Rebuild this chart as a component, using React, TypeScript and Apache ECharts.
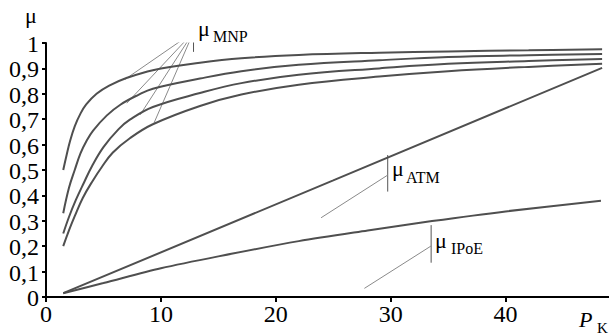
import { useEffect, useRef } from "react";
import * as echarts from "echarts";

// ---- data ----
const xTicks = [0, 10, 20, 30, 40];
const xTickLabels = ["0", "10", "20", "30", "40"];
const yTicks = [0, 0.1, 0.2, 0.3, 0.4, 0.5, 0.6, 0.7, 0.8, 0.9, 1];
const yTickLabels = ["0", "0,1", "0,2", "0,3", "0,4", "0,5", "0,6", "0,7", "0,8", "0,9", "1"];

const mnp1 = [
  [1.5, 0.5], [1.8, 0.56], [2.1, 0.615], [2.5, 0.672], [3, 0.722], [3.5, 0.758], [4.4, 0.8],
  [5.5, 0.832], [7, 0.862], [9.3, 0.893], [13.4, 0.922], [17, 0.94], [22, 0.953],
  [29, 0.962], [35, 0.967], [42, 0.971], [48.4, 0.975],
];
const mnp2 = [
  [1.5, 0.33], [2, 0.43], [2.5, 0.5], [3, 0.565], [3.5, 0.612], [4.1, 0.655], [5.3, 0.715],
  [6.5, 0.758], [8, 0.795], [9.3, 0.82], [13.4, 0.86], [17, 0.889], [22, 0.914], [29, 0.932],
  [35, 0.945], [42, 0.952], [48.4, 0.957],
];
const mnp3 = [
  [1.5, 0.25], [2, 0.315], [2.6, 0.382], [3.3, 0.45], [4, 0.515], [5, 0.59], [6.3, 0.66],
  [7.3, 0.698], [9.3, 0.748], [13.4, 0.803], [17, 0.842], [22, 0.875],
  [29, 0.9], [35, 0.918], [42, 0.929], [48.4, 0.937],
];
const mnp4 = [
  [1.5, 0.2], [2, 0.262], [2.5, 0.318], [3.2, 0.39], [4.1, 0.46], [4.8, 0.508], [5.8, 0.568],
  [7.3, 0.625], [9.3, 0.68], [13.4, 0.752], [17, 0.797], [22, 0.836], [29, 0.868],
  [35, 0.889], [42, 0.906], [48.4, 0.918],
];
const atm = [[1.5, 0.015], [25, 0.459], [48.4, 0.902]];
const ipoe = [
  [1.5, 0.015], [5, 0.055], [10, 0.113], [15, 0.16], [22, 0.22], [28, 0.262],
  [33.6, 0.299], [40, 0.337], [48.3, 0.379],
];

// annotation anchors (data coordinates)
const mnpBar = [[12.84, 1.094], [12.84, 0.965]];
const mnpApex = [12.84, 1.043];
const mnpTargets = [[6.88, 0.857], [7.03, 0.763], [8.19, 0.717], [9.41, 0.686]];
const atmBar = [[29.74, 0.559], [29.74, 0.415]];
const atmApex = [29.74, 0.48];
const atmTarget = [23.94, 0.312];
const ipoeBar = [[33.52, 0.283], [33.52, 0.135]];
const ipoeApex = [33.52, 0.201];
const ipoeTarget = [27.71, 0.034];

const SERIF = "Liberation Serif";
const CURVE = "#4f4f4f";
const THIN = "#8a8a8a";

function curve(data: number[][], smooth: number | boolean = 0.4) {
  return {
    type: "line",
    data,
    smooth,
    showSymbol: false,
    symbol: "none",
    silent: true,
    lineStyle: { color: CURVE, width: 2 },
    z: 3,
  };
}
function thin(data: number[][], color = THIN, width = 1) {
  return {
    type: "line",
    data,
    showSymbol: false,
    symbol: "none",
    silent: true,
    lineStyle: { color, width },
    z: 2,
  };
}

export default function App() {
  const ref = useRef<HTMLDivElement>(null);
  useEffect(() => {
    if (!ref.current) return;
    const chart = echarts.init(ref.current, undefined, { renderer: "svg" });
    const series: any[] = [
      curve(mnp1), curve(mnp2), curve(mnp3), curve(mnp4),
      curve(atm, false),
      curve(ipoe, 0.3),
      thin(mnpBar, "#555"),
      ...mnpTargets.map((t) => thin([mnpApex, t])),
      thin(atmBar, "#555"),
      thin([atmApex, atmTarget]),
      thin(ipoeBar, "#555"),
      thin([ipoeApex, ipoeTarget]),
    ];
    const txt = (
      text: string,
      x: number,
      y: number,
      size: number,
      italic = false,
      align = "left"
    ) => ({
      type: "text",
      x,
      y,
      silent: true,
      style: {
        text,
        fontFamily: SERIF,
        fontSize: size,
        fontStyle: italic ? "italic" : "normal",
        fill: "#000",
        align,
        verticalAlign: "middle",
      },
    });
    chart.setOption({
      animation: false,
      backgroundColor: "#fff",
      grid: { left: 46, right: 0, top: 43, bottom: 39, containLabel: false, outerBoundsMode: "none" },
      xAxis: {
        type: "value",
        min: 0,
        max: 49,
        interval: 10,
        splitLine: { show: false },
        axisLine: { onZero: false, lineStyle: { color: "#000", width: 2 } },
        axisTick: { show: true, length: 5, lineStyle: { color: "#000", width: 2 }, customValues: xTicks },
        axisLabel: { show: false },
      },
      yAxis: {
        type: "value",
        min: 0,
        max: 1,
        interval: 0.1,
        splitLine: { show: false },
        axisLine: { show: true, lineStyle: { color: "#000", width: 2 } },
        axisTick: { show: true, length: 4, lineStyle: { color: "#000", width: 2 } },
        axisLabel: { show: false },
      },
      series,
    });

    // tick labels placed through the axes' own scales
    const xLabelEls = xTicks.map((v, i) => {
      const px = chart.convertToPixel({ xAxisIndex: 0 }, v) as number;
      const py = chart.convertToPixel({ yAxisIndex: 0 }, 0) as number;
      return txt(xTickLabels[i], px, py + 17, 24, false, "center");
    });
    const yLabelEls = yTicks.map((v, i) => {
      const px = chart.convertToPixel({ xAxisIndex: 0 }, 0) as number;
      const py = chart.convertToPixel({ yAxisIndex: 0 }, v) as number;
      return txt(yTickLabels[i], px - 7, py + 1, 24, false, "right");
    });

    chart.setOption({
      graphic: [
        ...xLabelEls,
        ...yLabelEls,
        txt("μ", 25, 15, 22),
        txt("μ", 198, 28, 22),
        txt("MNP", 213, 36.6, 16),
        txt("μ", 392, 168, 22),
        txt("ATM", 406, 177.6, 16),
        txt("μ", 435, 240, 22),
        txt("IPoE", 451, 248.6, 16),
        txt("P", 579, 319.6, 22, true),
        txt("K", 597, 328, 15),
      ],
    });
    return () => chart.dispose();
  }, []);
  return (
    <div
      ref={ref}
      style={{ position: "fixed", left: 0, top: 0, width: 609, height: 336, background: "#fff" }}
    />
  );
}
